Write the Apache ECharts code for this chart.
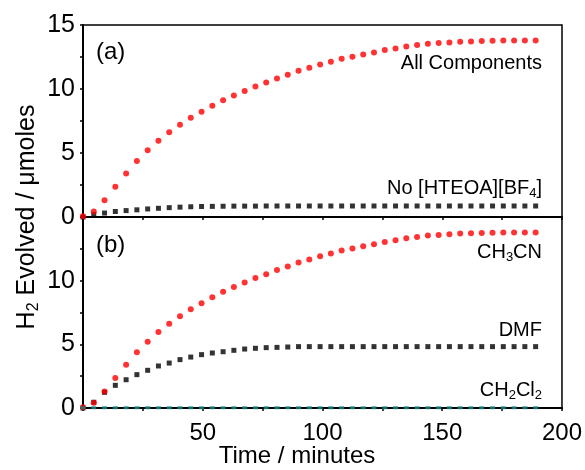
<!DOCTYPE html>
<html>
<head>
<meta charset="utf-8">
<script src="https://cdn.jsdelivr.net/npm/echarts@6/dist/echarts.min.js"></script>
<style>
  html, body { margin: 0; padding: 0; background: #fff; }
  #chart { width: 585px; height: 470px; }
</style>
</head>
<body>
<div id="chart"></div>
<script>
// sampling times (minutes)
const times = [0, 4.5, 9, 13.5, 18, 22.5, 27, 31.5, 36, 40.5,
  45, 49.5, 54, 58.5, 63, 67.5, 72, 76.5, 81, 85.5,
  90, 94.5, 99, 103.5, 108, 112.5, 117, 121.5, 126, 130.5,
  135, 139.5, 144, 148.5, 153, 157.5, 162, 166.5, 171, 175.5,
  180, 184.5, 189]

// panel (a)
const allComponents = [0.05, 0.42, 1.30, 2.36, 3.40, 4.37, 5.21, 5.96, 6.62, 7.20,
  7.76, 8.22, 8.69, 9.13, 9.50, 9.85, 10.20, 10.50, 10.83, 11.12,
  11.43, 11.66, 11.92, 12.13, 12.37, 12.52, 12.70, 12.86, 13.04, 13.17,
  13.33, 13.43, 13.54, 13.59, 13.64, 13.70, 13.72, 13.75, 13.77, 13.78,
  13.78, 13.78, 13.78]
const noHteoa = [0, 0.20, 0.31, 0.43, 0.50, 0.56, 0.63, 0.68, 0.73, 0.77,
  0.80, 0.82, 0.83, 0.84, 0.85, 0.85, 0.85, 0.86, 0.86, 0.86,
  0.86, 0.86, 0.86, 0.86, 0.86, 0.86, 0.86, 0.86, 0.86, 0.86,
  0.86, 0.86, 0.86, 0.86, 0.86, 0.86, 0.86, 0.86, 0.86, 0.86,
  0.86, 0.86, 0.86]

// panel (b)
const ch3cn = [0.05, 0.42, 1.30, 2.36, 3.40, 4.37, 5.21, 5.96, 6.62, 7.20,
  7.76, 8.22, 8.69, 9.13, 9.50, 9.85, 10.20, 10.50, 10.83, 11.12,
  11.43, 11.66, 11.92, 12.13, 12.37, 12.52, 12.70, 12.86, 13.04, 13.17,
  13.33, 13.43, 13.54, 13.59, 13.64, 13.70, 13.72, 13.75, 13.77, 13.78,
  13.78, 13.78, 13.78]
const dmf = [0, 0.45, 1.23, 1.78, 2.22, 2.62, 2.96, 3.30, 3.53, 3.80,
  4.00, 4.19, 4.32, 4.42, 4.53, 4.63, 4.69, 4.74, 4.76, 4.79,
  4.82, 4.82, 4.82, 4.82, 4.82, 4.82, 4.82, 4.82, 4.82, 4.82,
  4.82, 4.82, 4.82, 4.82, 4.82, 4.82, 4.82, 4.82, 4.82, 4.82,
  4.82, 4.82, 4.82]
const ch2cl2 = [0.02, 0.02, 0.02, 0.02, 0.02, 0.02, 0.02, 0.02, 0.02, 0.02,
  0.02, 0.02, 0.02, 0.02, 0.02, 0.02, 0.02, 0.02, 0.02, 0.02,
  0.02, 0.02, 0.02, 0.02, 0.02, 0.02, 0.02, 0.02, 0.02, 0.02,
  0.02, 0.02, 0.02, 0.02, 0.02, 0.02, 0.02, 0.02, 0.02, 0.02,
  0.02, 0.02, 0.02]

const yTicks = [0, 5, 10, 15]
const xLabelTicks = [50, 100, 150, 200]

const font = 'Liberation Sans, Arial, sans-serif'
const ink = '#000'

function pairs(vals) {
  return times.map((t, i) => [t, vals[i]])
}

function xAxisOf(idx, showLabels) {
  return {
    gridIndex: idx,
    type: 'value',
    min: 0,
    max: 200,
    interval: 25,
    axisLine: {onZero: false, lineStyle: {color: '#000', width: 2}},
    axisTick: {show: true, length: 3, lineStyle: {color: '#000', width: 1.5}},
    axisLabel: {
      show: showLabels,
      margin: 13,
      fontSize: 24,
      fontFamily: font,
      color: ink,
      formatter: v => xLabelTicks.includes(v) ? String(v) : ''
    },
    splitLine: {show: false}
  }
}

function yAxisOf(idx, hideTop) {
  return {
    gridIndex: idx,
    type: 'value',
    min: 0,
    max: 15,
    interval: 5,
    axisLine: {show: true, lineStyle: {color: '#000', width: 2}},
    axisTick: {show: true, length: 3, lineStyle: {color: '#000', width: 1.5}},
    minorTick: {show: true, splitNumber: 2, length: 3, lineStyle: {color: '#000', width: 1.5}},
    axisLabel: {
      margin: 8,
      fontSize: 25,
      fontFamily: font,
      color: ink,
      formatter: v => (hideTop && v === 15) || !yTicks.includes(v) ? '' : String(v)
    },
    splitLine: {show: false}
  }
}

function dots(name, vals, xi, symbol, size, color) {
  return {
    name: name,
    type: 'scatter',
    xAxisIndex: xi,
    yAxisIndex: xi,
    symbol: symbol,
    symbolSize: size,
    itemStyle: {color: color},
    silent: true,
    data: pairs(vals)
  }
}

const rich = {
  m: {fontSize: 20, lineHeight: 24, fontFamily: font, fill: ink},
  s: {fontSize: 13, lineHeight: 9, verticalAlign: 'bottom', fontFamily: font, fill: ink}
}
function note(x, y, text, align) {
  return {
    type: 'text', x: x, y: y, silent: true,
    style: {text: text, rich: rich, align: align, verticalAlign: 'middle', fill: ink}
  }
}

let c = echarts.init(document.getElementById('chart'))
c.setOption({
  animation: false,
  grid: [
    {left: 83, top: 25, width: 479, height: 192, show: true, borderColor: '#000', borderWidth: 1.5},
    {left: 83, top: 217, width: 479, height: 191, show: true, borderColor: '#000', borderWidth: 1.5}
  ],
  xAxis: [xAxisOf(0, false), xAxisOf(1, true)],
  yAxis: [yAxisOf(0, false), yAxisOf(1, true)],
  series: [
    dots('No [HTEOA][BF4]', noHteoa, 0, 'rect', 5, '#000'),
    dots('All Components', allComponents, 0, 'circle', 6, '#ff0000'),
    dots('DMF', dmf, 1, 'rect', 5, '#000'),
    dots('CH3CN', ch3cn, 1, 'circle', 6, '#ff0000'),
    dots('CH2Cl2', ch2cl2, 1, 'rect', [5, 3], '#138a8a')
  ],
  graphic: [
    {type: 'text', x: 96, y: 52, silent: true,
      style: {text: '(a)', font: '24px ' + font, fill: ink, verticalAlign: 'middle'}},
    {type: 'text', x: 96, y: 245, silent: true,
      style: {text: '(b)', font: '24px ' + font, fill: ink, verticalAlign: 'middle'}},
    note(542, 63, '{m|All Components}', 'right'),
    note(542, 188, '{m|No [HTEOA][BF}{s|4}{m|]}', 'right'),
    note(542, 252, '{m|CH}{s|3}{m|CN}', 'right'),
    note(542, 330, '{m|DMF}', 'right'),
    note(542, 390, '{m|CH}{s|2}{m|Cl}{s|2}', 'right'),
    {type: 'text', x: 297, y: 456, silent: true,
      style: {text: 'Time / minutes', font: '24px ' + font, fill: ink, align: 'center', verticalAlign: 'middle'}},
    {type: 'text', x: 27, y: 217, rotation: Math.PI / 2, silent: true,
      style: {
        text: '{a|H}{b|2}{a| Evolved / μmoles}',
        align: 'center', verticalAlign: 'middle', fill: ink,
        rich: {
          a: {fontSize: 25, lineHeight: 30, fontFamily: font, fill: ink},
          b: {fontSize: 16, lineHeight: 12, verticalAlign: 'bottom', fontFamily: font, fill: ink}
        }
      }}
  ]
})
</script>
</body>
</html>
